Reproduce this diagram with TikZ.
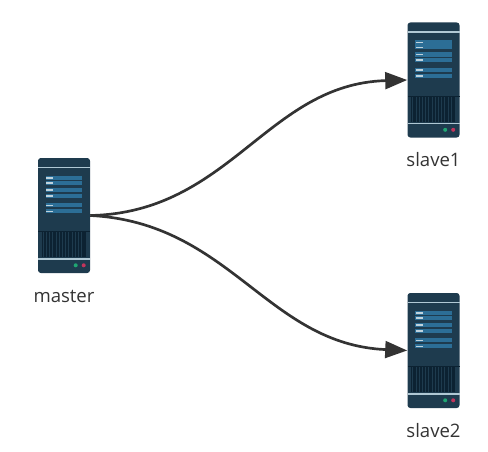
\documentclass[tikz,border=0pt]{standalone}
\usepackage{fontspec}
\setmainfont{Open Sans}
\usetikzlibrary{positioning,arrows.meta}
\definecolor{corps}{RGB}{30,59,78}
\definecolor{grille}{RGB}{12,34,50}
\definecolor{panneau}{RGB}{44,110,150}
\definecolor{filet}{RGB}{176,200,212}
\definecolor{diode}{RGB}{31,166,114}
\definecolor{alarme}{RGB}{194,52,92}
\definecolor{trait}{RGB}{51,51,51}
\tikzset{
pics/serveur/.style={code={
\fill[corps,rounded corners=2pt] (-0.65,-1.4375) rectangle (0.65,1.4375);
\fill[filet] (-0.65,1.18) rectangle (0.65,1.215);
\fill[grille] (-0.65,-0.42) rectangle (0.65,-0.39);
\fill[grille] (-0.56,-1.045) rectangle (0.54,-0.42);
\foreach \xpos in {-0.52,-0.44,...,0.5}
  \draw[corps,line width=0.5pt] (\xpos,-1.045) -- (\xpos,-0.42);
\fill[filet] (-0.65,-1.1) rectangle (0.65,-1.065);
\foreach \haut in {0.99,0.87,0.69,0.55,0.31,0.16} {
  \fill[panneau] (-0.455,\haut) rectangle (0.46,\haut-0.105);
  \fill[filet!80!white] (-0.44,\haut-0.035) rectangle (-0.27,\haut-0.075);
}
\fill[diode] (0.2925,-1.245) circle (0.05);
\fill[alarme] (0.4925,-1.245) circle (0.05);
}},
machine/.style={minimum width=1.3cm,minimum height=2.875cm,inner sep=0pt},
nom/.style={font=\fontsize{13.2pt}{16pt}\selectfont,text=black!80,inner sep=0pt,text height=0.3cm,text depth=0pt},
lien/.style={-{Stealth[length=0.55cm,width=0.42cm,inset=0pt]},line width=1.9pt,draw=trait}
}
\begin{document}
\begin{tikzpicture}
\useasboundingbox (0,0) rectangle (12.2,11.275);
\node[machine] (master) at (1.6,5.8875) {};
\node[machine] (slave1) at (10.8375,9.275) {};
\node[machine] (slave2) at (10.8375,2.5125) {};
\pic at (master) {serveur};
\pic at (slave1) {serveur};
\pic at (slave2) {serveur};
\node[nom,below=0.42cm of master] (nommaster) {master};
\node[nom,below=0.42cm of slave1] (nomslave1) {slave1};
\node[nom,below=0.42cm of slave2] (nomslave2) {slave2};
\draw[lien] (master.east) .. controls +(3.5,0.07) and +(-3.5,-0.1) .. (slave1.west);
\draw[lien] (master.east) .. controls +(3.5,-0.175) and +(-3.5,0.15) .. (slave2.west);
\end{tikzpicture}
\end{document}
